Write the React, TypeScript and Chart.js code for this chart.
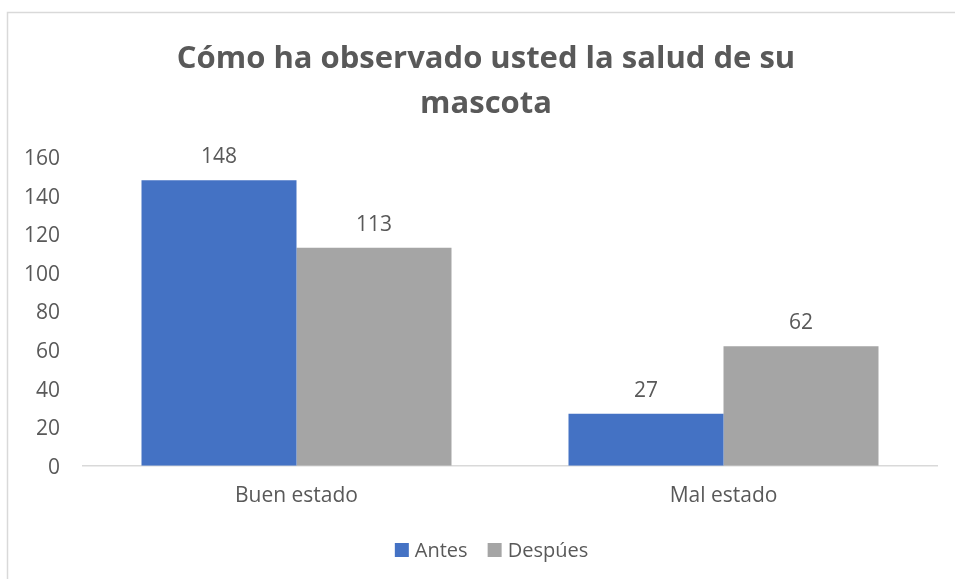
import React, { useEffect, useRef } from "react";
import { Chart, registerables } from "chart.js";

Chart.register(...registerables);

const categories = ["Buen estado", "Mal estado"];
const seriesNames = ["Antes", "Despúes"];
const seriesColors = ["#4472C4", "#A5A5A5"];
const antesValues = [148, 27];
const despuesValues = [113, 62];
const yTicks = [0, 20, 40, 60, 80, 100, 120, 140, 160];
const titleLines = ["Cómo ha observado usted la salud de su", "mascota"];

const FONT = "'Open Sans', 'DejaVu Sans', sans-serif";
const TEXT = "#595959";

const frame = {
  id: "frame",
  beforeDraw(chart: any) {
    const { ctx, width, height } = chart;
    ctx.save();
    ctx.fillStyle = "#ffffff";
    ctx.fillRect(0, 0, width, height);
    ctx.strokeStyle = "#d9d9d9";
    ctx.lineWidth = 1.5;
    ctx.beginPath();
    ctx.moveTo(7.5, height);
    ctx.lineTo(7.5, 12.5);
    ctx.lineTo(width, 12.5);
    ctx.stroke();
    ctx.restore();
  },
};

const titleAndLegend = {
  id: "titleAndLegend",
  afterDraw(chart: any) {
    const { ctx } = chart;
    ctx.save();
    ctx.fillStyle = TEXT;
    ctx.textAlign = "center";
    ctx.textBaseline = "alphabetic";
    ctx.font = `bold 31px ${FONT}`;
    ctx.fillText(titleLines[0], 486, 68);
    ctx.fillText(titleLines[1], 486, 113);

    ctx.font = `20px ${FONT}`;
    ctx.textAlign = "left";
    const box = 14;
    const gap = 6;
    const spacing = 20;
    const widths = seriesNames.map((n) => ctx.measureText(n).width);
    const total = widths.reduce((a, w) => a + box + gap + w, 0) + spacing * (seriesNames.length - 1);
    let x = 491.5 - total / 2;
    seriesNames.forEach((n, i) => {
      ctx.fillStyle = seriesColors[i];
      ctx.fillRect(x, 543, box, box);
      ctx.fillStyle = TEXT;
      ctx.fillText(n, x + box + gap, 557);
      x += box + gap + widths[i] + spacing;
    });
    ctx.restore();
  },
};

const dataLabels = {
  id: "dataLabels",
  afterDatasetsDraw(chart: any) {
    const { ctx } = chart;
    ctx.save();
    ctx.font = `21px ${FONT}`;
    ctx.fillStyle = TEXT;
    ctx.textAlign = "center";
    ctx.textBaseline = "alphabetic";
    chart.data.datasets.forEach((ds: any, i: number) => {
      const meta = chart.getDatasetMeta(i);
      meta.data.forEach((bar: any, j: number) => {
        ctx.fillText(String(ds.data[j]), bar.x, bar.y - 17);
      });
    });
    ctx.restore();
  },
};

export default function App() {
  const ref = useRef<HTMLCanvasElement | null>(null);
  useEffect(() => {
    if (!ref.current) return;
    const chart = new Chart(ref.current, {
      type: "bar",
      data: {
        labels: categories,
        datasets: [
          {
            label: seriesNames[0],
            data: antesValues,
            backgroundColor: seriesColors[0],
            categoryPercentage: 0.726,
            barPercentage: 1,
          },
          {
            label: seriesNames[1],
            data: despuesValues,
            backgroundColor: seriesColors[1],
            categoryPercentage: 0.726,
            barPercentage: 1,
          },
        ],
      },
      options: {
        responsive: false,
        animation: false,
        layout: { padding: { left: 0, right: 18, top: 157, bottom: 52 } },
        plugins: {
          title: { display: false },
          legend: { display: false },
          tooltip: { enabled: false },
        },
        scales: {
          x: {
            grid: { display: false, drawTicks: false },
            border: { display: true, color: "#d9d9d9", width: 1.5 },
            ticks: { color: TEXT, font: { family: FONT, size: 21 }, padding: 18 },
          },
          y: {
            min: 0,
            max: 160,
            afterBuildTicks: (scale: any) => {
              scale.ticks = yTicks.map((v) => ({ value: v }));
            },
            afterFit: (scale: any) => {
              scale.width = 83;
            },
            grid: { display: false, drawTicks: false },
            border: { display: false },
            ticks: { color: TEXT, font: { family: FONT, size: 21 }, padding: 23, labelOffset: 2 },
          },
        },
      },
      plugins: [frame, dataLabels, titleAndLegend],
    });
    return () => chart.destroy();
  }, []);
  return (
    <div style={{ position: "absolute", left: 0, top: 0, width: 955, height: 579 }}>
      <canvas ref={ref} width={955} height={579} />
    </div>
  );
}
